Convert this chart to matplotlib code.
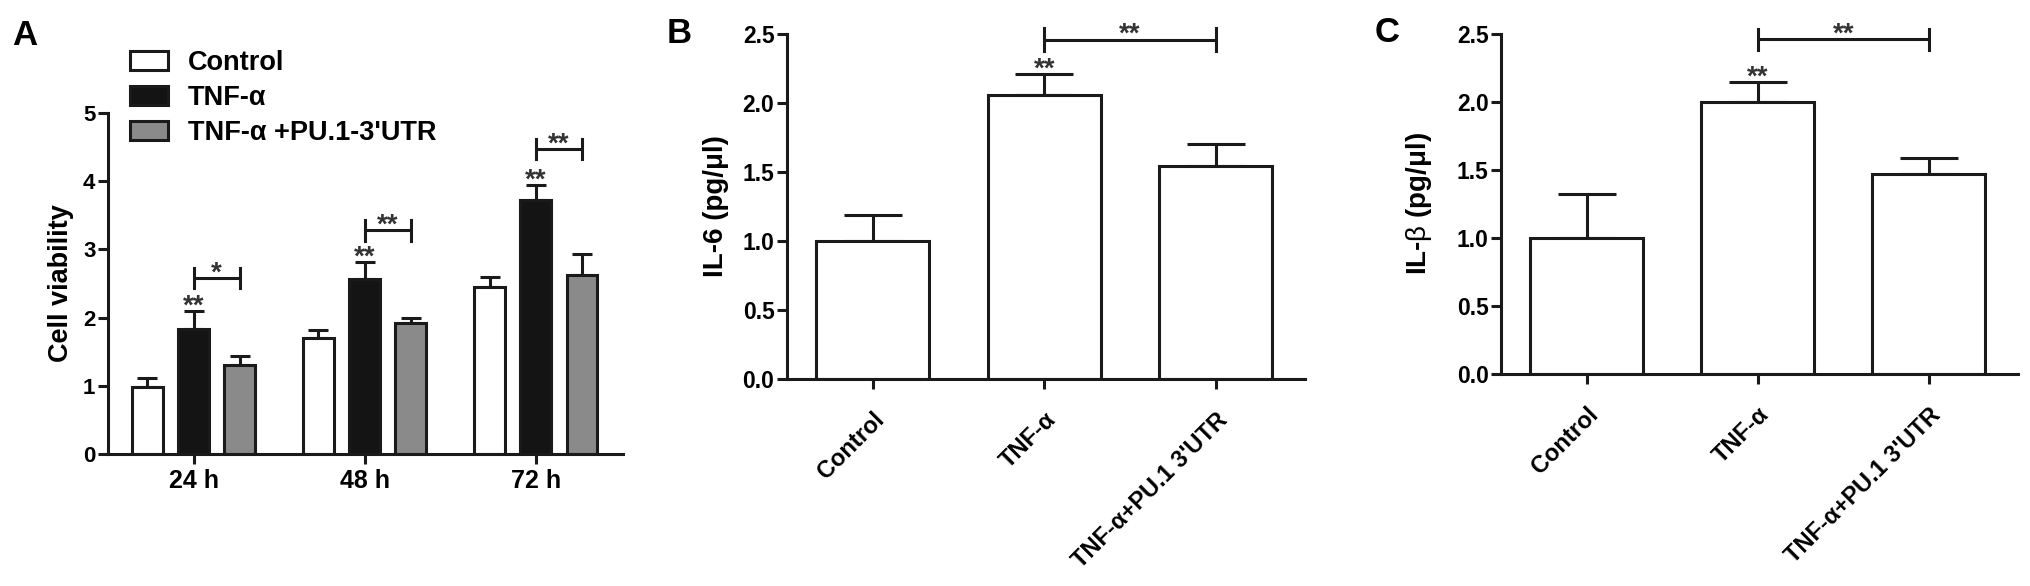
import numpy as np
import matplotlib
matplotlib.use('Agg')
import matplotlib.pyplot as plt
from matplotlib.patches import Rectangle

plt.rcParams['font.family'] = ['Liberation Sans', 'DejaVu Sans']
plt.rcParams['font.weight'] = 'bold'
plt.rcParams['axes.labelweight'] = 'bold'
plt.rcParams['mathtext.fontset'] = 'custom'
plt.rcParams['mathtext.rm'] = 'Liberation Sans:weight=normal'
plt.rcParams['mathtext.default'] = 'rm'

# panel A data
time_points = ['24 h', '48 h', '72 h']
legend_labels = ['Control', 'TNF-α', "TNF-α +PU.1-3'UTR"]
viab_control = [0.98, 1.70, 2.45]
viab_tnf = [1.84, 2.57, 3.73]
viab_pu1 = [1.31, 1.92, 2.63]
err_control = [0.13, 0.12, 0.14]
err_tnf = [0.26, 0.25, 0.21]
err_pu1 = [0.12, 0.08, 0.30]
bracket_a = [2.58, 3.28, 4.47]
bracket_a_stars = ['*', '**', '**']

# panels B and C data
groups = ['Control', 'TNF-α', "TNF-α+PU.1 3'UTR"]
il6 = [1.00, 2.06, 1.54]
il6_err = [0.19, 0.15, 0.16]
il1b = [1.00, 2.00, 1.47]
il1b_err = [0.32, 0.15, 0.12]
bracket_b = 2.46
bracket_c = 2.46

W, H = 2031, 586
LW = 2.2
INK = '#1a1a1a'


def style_axes(ax):
    for s in ['top', 'right']:
        ax.spines[s].set_visible(False)
    for s in ['left', 'bottom']:
        ax.spines[s].set_linewidth(LW)
        ax.spines[s].set_color(INK)
    ax.tick_params(width=LW, length=7, color=INK, direction='out')


def bracket(ax, x1, x2, y, d, label):
    ax.plot([x1, x2], [y, y], color=INK, lw=LW, clip_on=False, solid_capstyle='butt')
    ax.plot([x1, x1], [y - d, y + d], color=INK, lw=LW, clip_on=False)
    ax.plot([x2, x2], [y - d, y + d], color=INK, lw=LW, clip_on=False)
    ax.annotate(label, ((x1 + x2) / 2, y), xytext=(0, -1.5), textcoords='offset points',
                ha='center', va='baseline', fontsize=20, color='#333333', annotation_clip=False)


def stars(ax, x, y, label='**'):
    ax.annotate(label, (x, y), xytext=(0, -2), textcoords='offset points',
                ha='center', va='baseline', fontsize=20, color='#333333', annotation_clip=False)


fig = plt.figure(figsize=(W / 100, H / 100), dpi=100)

# ---- panel A ----
axA = fig.add_axes([108 / W, 1 - 454 / H, 515 / W, 341 / H])
style_axes(axA)
x = np.arange(len(time_points))
off = 0.27
bw = 0.18
colors = ['white', '#141414', '#8a8a8a']
series = [(viab_control, err_control), (viab_tnf, err_tnf), (viab_pu1, err_pu1)]
for i, (vals, errs) in enumerate(series):
    xi = x + (i - 1) * off
    axA.bar(xi, vals, width=bw, color=colors[i], edgecolor=INK, linewidth=LW, zorder=2)
    axA.errorbar(xi, vals, yerr=[np.zeros(len(vals)), errs], fmt='none', ecolor=INK,
                 elinewidth=LW, capsize=7.5, capthick=LW, zorder=1)
for k in range(len(time_points)):
    stars(axA, x[k], viab_tnf[k] + err_tnf[k])
    bracket(axA, x[k], x[k] + off, bracket_a[k], 0.15, bracket_a_stars[k])
axA.set_xlim(-0.5, 2.51)
axA.set_ylim(0, 5)
axA.set_yticks([0, 1, 2, 3, 4, 5])
axA.set_xticks(x)
axA.set_xticklabels(time_points, fontsize=18)
axA.tick_params(axis='y', labelsize=16, pad=2)
axA.tick_params(axis='x', pad=4)
axA.set_ylabel('Cell viability', fontsize=19.5)
axA.yaxis.set_label_coords(-0.066, 0.5)

handles = [Rectangle((0, 0), 1, 1, facecolor=c, edgecolor=INK, linewidth=LW) for c in colors]
fig.legend(handles, legend_labels, loc='upper left', bbox_to_anchor=(130 / W, 1 - 50 / H),
           frameon=False, fontsize=19.5, handlelength=1.4, handleheight=0.75,
           handletextpad=0.75, labelspacing=0.33, borderpad=0, borderaxespad=0)


# ---- panels B and C ----
def bar_panel(rect, vals, errs, ylabel, label_x, ybr):
    ax = fig.add_axes(rect)
    style_axes(ax)
    xb = np.arange(len(groups))
    ax.bar(xb, vals, width=0.66, color='white', edgecolor=INK, linewidth=LW, zorder=2)
    ax.errorbar(xb, vals, yerr=[np.zeros(len(vals)), errs], fmt='none', ecolor=INK,
                elinewidth=LW, capsize=21, capthick=LW, zorder=1)
    stars(ax, xb[1], vals[1] + errs[1])
    bracket(ax, xb[1], xb[2], ybr, 0.08, '**')
    ax.set_xlim(-0.5, 2.52)
    ax.set_ylim(0, 2.5)
    ax.set_yticks(np.arange(0, 2.51, 0.5))
    ax.set_yticklabels([f'{v:.1f}' for v in np.arange(0, 2.51, 0.5)])
    ax.set_xticks(xb)
    ax.set_xticklabels(groups, rotation=45, ha='right', rotation_mode='anchor', fontsize=17)
    ax.tick_params(axis='y', labelsize=16.5, pad=2)
    ax.tick_params(axis='x', pad=14)
    ax.set_ylabel(ylabel, fontsize=20)
    ax.yaxis.set_label_coords(label_x, 0.5)
    return ax


bar_panel([787 / W, 1 - 379 / H, 518 / W, 345 / H], il6, il6_err,
          'IL-6 (pg/μl)', -0.112, bracket_b)
bar_panel([1501 / W, 1 - 374 / H, 517 / W, 340 / H], il1b, il1b_err,
          r'IL-$\beta$ (pg/μl)', -0.13, bracket_c)

for lbl, px, py in [('A', 12, 45), ('B', 667, 43), ('C', 1375, 42)]:
    fig.text(px / W, 1 - py / H, lbl, fontsize=25, fontweight='bold', va='baseline')

fig.savefig('out.png', dpi=100)
